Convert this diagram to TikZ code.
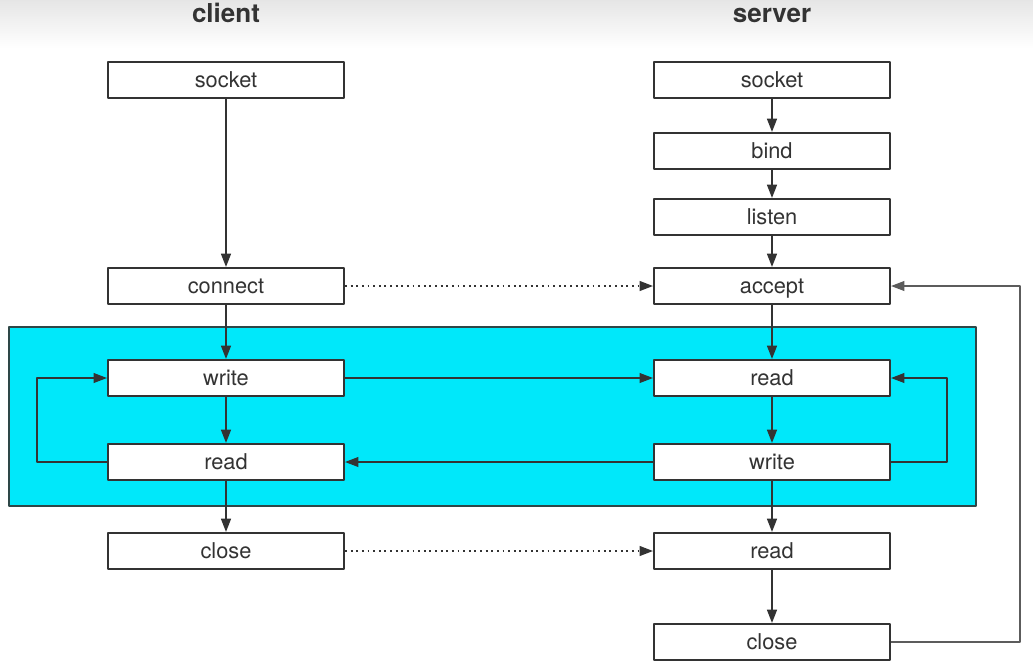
\documentclass[tikz,border=0pt]{standalone}
\usepackage{fontspec}
\setmainfont{TeX Gyre Heros}
\usetikzlibrary{arrows.meta}
\definecolor{boxline}{HTML}{333333}
\definecolor{loopcyan}{HTML}{00E8FA}
\begin{document}
\begin{tikzpicture}[x=0.025cm, y=-0.025cm, >={Triangle[length=9.5pt,width=7pt]}, font=\fontsize{15.5}{18}\selectfont, line join=round]
	\tikzset{box/.style={draw=boxline, line width=1.4pt, fill=white, minimum width=5.9cm, minimum height=0.9cm, inner sep=0pt, text height=2ex, text depth=0.1ex, text=boxline},
		head/.style={text=boxline, anchor=base, font=\fontsize{18.5}{20}\selectfont\bfseries},
		flow/.style={->, draw=boxline, line width=1.4pt},
		thinflow/.style={->, draw=boxline, line width=0.9pt},
		msg/.style={->, draw=boxline, line width=1.1pt, dash pattern=on 1.4pt off 2.6pt}}
	\def\cx{226} \def\sx{772} % columns
	\useasboundingbox (0,0) rectangle (1033,671);
	\shade[top color=gray!20, bottom color=white] (0,0) rectangle (1033,48);
	\filldraw[fill=loopcyan, draw=boxline!90!cyan, line width=1.3pt] (9,327) rectangle (976,506);
	\node[head] (chead) at (\cx,22) {client};
	\node[head] (shead) at (\sx,22) {server};
	\foreach \n/\t/\y in {csocket/socket/80, cconnect/connect/286, cwrite/write/378, cread/read/462, cclose/close/551}{
		\node[box] (\n) at (\cx,\y) {\t};%client
	}
	\foreach \n/\t/\y in {ssocket/socket/80, sbind/bind/151, slisten/listen/217, saccept/accept/286, sread/read/378, swrite/write/462, sreadend/read/551, sclose/close/642}{
		\node[box] (\n) at (\sx,\y) {\t};%server
	}
	\foreach \a/\b in {csocket/cconnect, cconnect/cwrite, cwrite/cread, cread/cclose, ssocket/sbind, sbind/slisten, slisten/saccept, saccept/sread, sread/swrite, swrite/sreadend, sreadend/sclose}{
		\draw[flow] (\a) -- (\b);
	}
	\draw[msg] (cconnect) -- (saccept);
	\draw[msg] (cclose) -- (sreadend);
	\draw[thinflow] (cwrite) -- (sread);
	\draw[thinflow] (swrite) -- (cread);
	\draw[thinflow] (cread.west) -- ++(-70,0) |- (cwrite.west);
	\draw[thinflow] (swrite.east) -- ++(56,0) |- (sread.east);
	\coordinate (back) at (1020,642);
	\draw[thinflow, draw=boxline!80] (sclose.east) -- (back) |- (saccept.east);
\end{tikzpicture}
\end{document}
